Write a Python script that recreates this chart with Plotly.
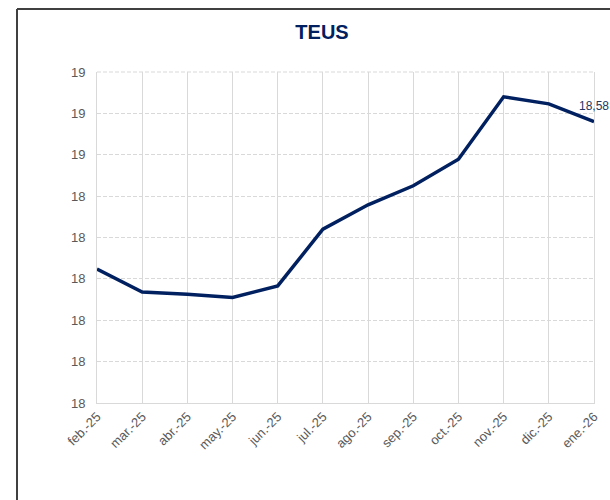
import plotly.graph_objects as go

# Monthly TEUS series
months = ["feb.-25", "mar.-25", "abr.-25", "may.-25", "jun.-25", "jul.-25",
          "ago.-25", "sep.-25", "oct.-25", "nov.-25", "dic.-25", "ene.-26"]
teus = [18.224, 18.168, 18.163, 18.155, 18.183, 18.320,
        18.379, 18.425, 18.489, 18.640, 18.623, 18.58]

# Value axis ticks and their (rounded) labels
y_ticks = [17.9, 18.0, 18.1, 18.2, 18.3, 18.4, 18.5, 18.6, 18.7]
y_tick_labels = ["18", "18", "18", "18", "18", "18", "19", "19", "19"]

NAVY = "#002060"
GRID = "#d9d9d9"
TICK = "#595959"
FONT = "Liberation Sans, Arial, sans-serif"

W, H = 610, 500
L, R, T, B = 97, 16, 72, 97
pw, ph = W - L - R, H - T - B

fig = go.Figure()
fig.add_trace(go.Scatter(
    x=list(range(len(months))), y=teus, mode="lines",
    line=dict(color=NAVY, width=3.5), hoverinfo="skip", showlegend=False,
))

last = len(teus) - 1
fig.add_annotation(
    x=last, y=teus[last], text=f"{teus[last]:.2f}".replace(".", ","),
    showarrow=False, xanchor="center", yanchor="bottom", yshift=7,
    font=dict(family=FONT, size=12, color="#203864"),
)

# Dashed top edge of the plot area
fig.add_shape(type="line", xref="paper", yref="paper", x0=0, x1=1, y0=1, y1=1,
              line=dict(color=GRID, width=1, dash="4px,2px"), layer="below")

# Outer frame (left and top edges visible)
fx = (17 - L) / pw
fy = 1 + (T - 9) / ph
fig.add_shape(type="line", xref="paper", yref="paper", x0=fx, x1=fx, y0=-1, y1=fy,
              line=dict(color="#404040", width=2))
fig.add_shape(type="line", xref="paper", yref="paper", x0=fx, x1=2, y0=fy, y1=fy,
              line=dict(color="#404040", width=2))

fig.update_layout(
    width=W, height=H,
    margin=dict(l=L, r=R, t=T, b=B, autoexpand=False),
    paper_bgcolor="white", plot_bgcolor="white",
    title=dict(text="<b>TEUS</b>", x=322 / W, xanchor="center",
               y=1 - 32 / H, yanchor="middle",
               font=dict(family=FONT, size=20, color=NAVY)),
    font=dict(family=FONT, size=13, color=TICK),
)
fig.update_xaxes(
    range=[0, last], tickmode="array", tickvals=list(range(len(months))),
    ticktext=months, tickangle=-45, showgrid=True, gridcolor=GRID, gridwidth=1,
    showline=True, linecolor=GRID, linewidth=1, zeroline=False, ticks="",
    automargin=False, tickfont=dict(family=FONT, size=13, color=TICK),
)
fig.update_yaxes(
    range=[y_ticks[0], y_ticks[-1]], tickmode="array", tickvals=y_ticks,
    ticktext=y_tick_labels, showgrid=True, gridcolor=GRID, griddash="4px,2px",
    gridwidth=1, showline=True, mirror=True, linecolor=GRID, linewidth=1,
    zeroline=False, ticks="", ticklabelstandoff=8, automargin=False,
    tickfont=dict(family=FONT, size=13, color=TICK),
)

fig.write_html("out.html")
